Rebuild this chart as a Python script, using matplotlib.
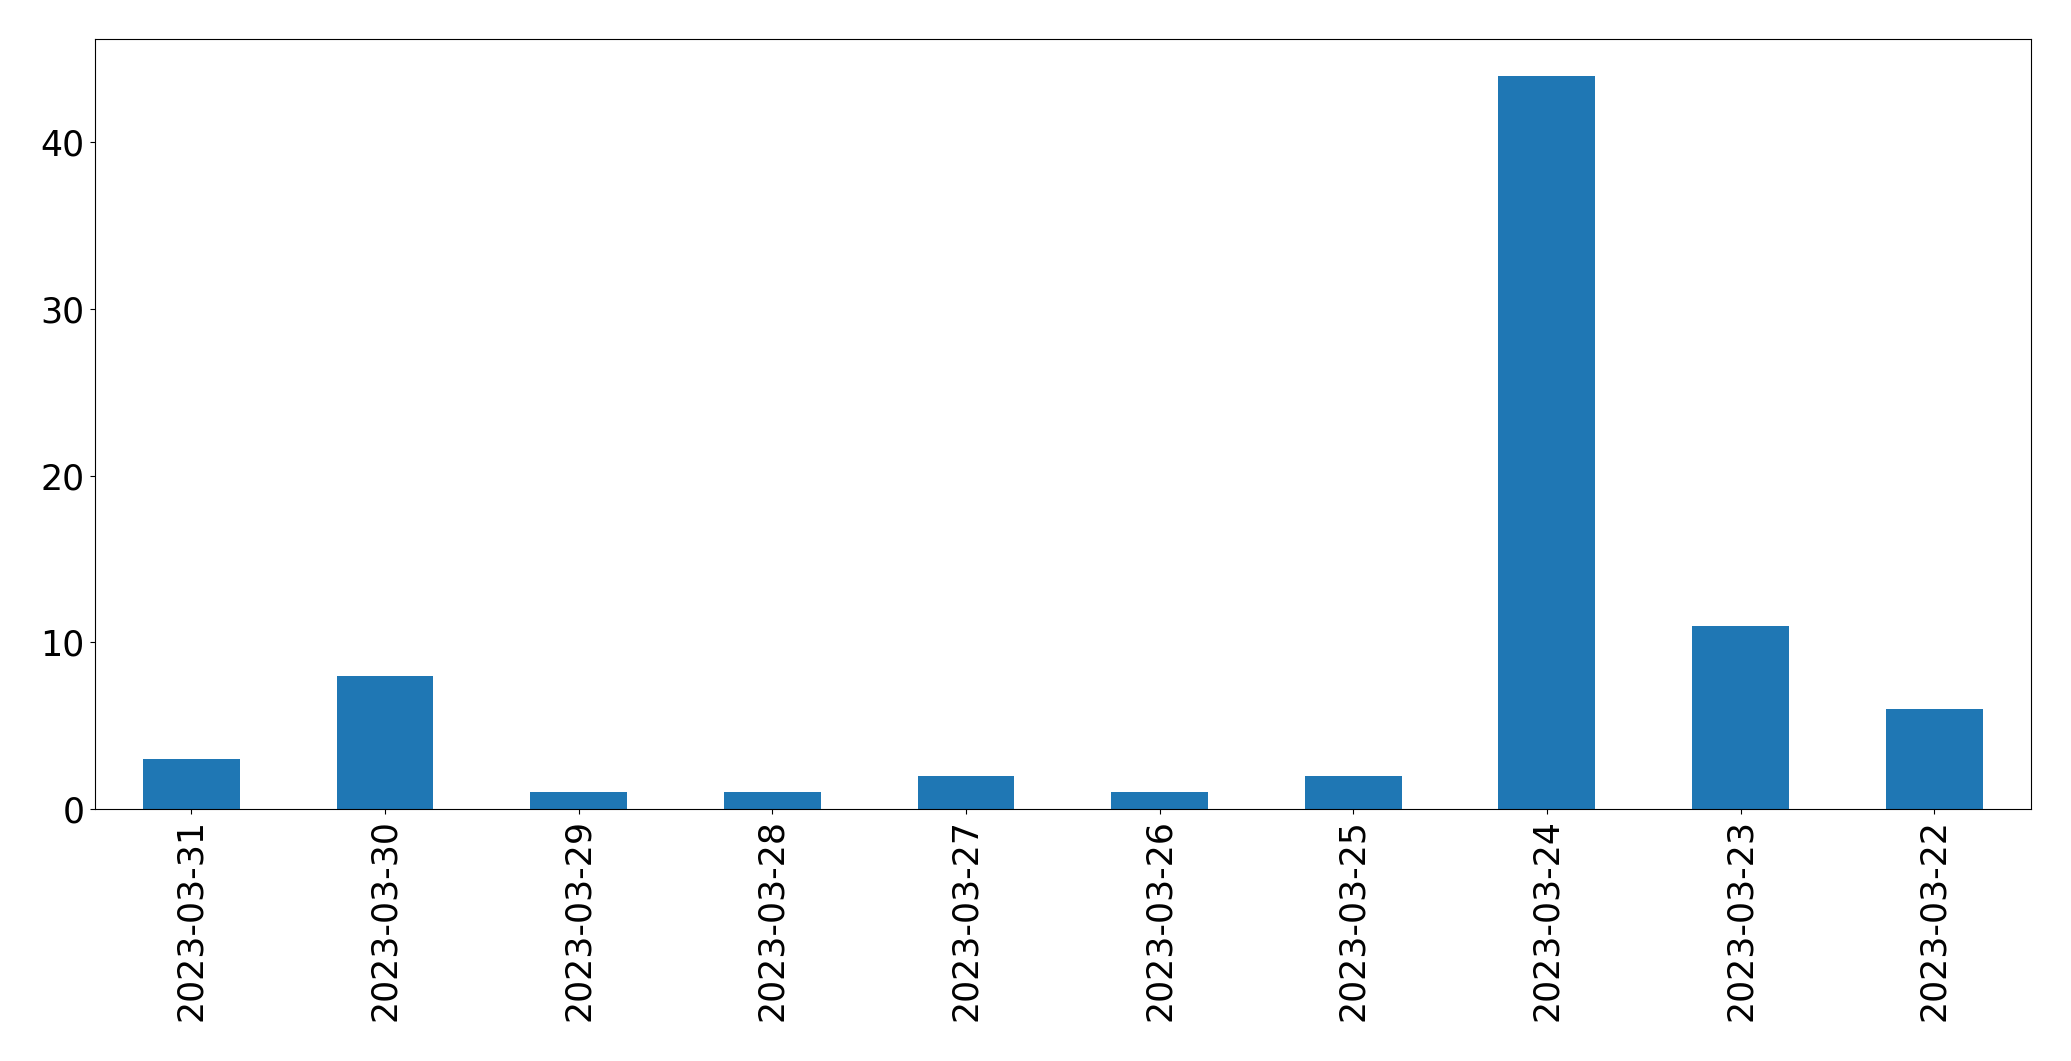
import matplotlib
matplotlib.use('Agg')
import matplotlib.pyplot as plt
import pandas as pd

dates = ['2023-03-31', '2023-03-30', '2023-03-29', '2023-03-28', '2023-03-27',
         '2023-03-26', '2023-03-25', '2023-03-24', '2023-03-23', '2023-03-22']
counts = [3, 8, 1, 1, 2, 1, 2, 44, 11, 6]


def main():
    s = pd.Series(counts, index=dates)

    fig = plt.figure(figsize=(20.71, 10.61), dpi=100)
    ax = fig.add_axes([94.5 / 2071, 1 - 809 / 1061, (2031 - 94.5) / 2071, (809 - 39) / 1061])
    s.plot(kind='bar', ax=ax, color='#1f77b4', width=0.5)
    ax.tick_params(axis='both', labelsize=25)
    ax.set_xlim(-0.5, len(dates) - 0.5)

    fig.savefig('out.png', dpi=100)


if __name__ == '__main__':
    main()
